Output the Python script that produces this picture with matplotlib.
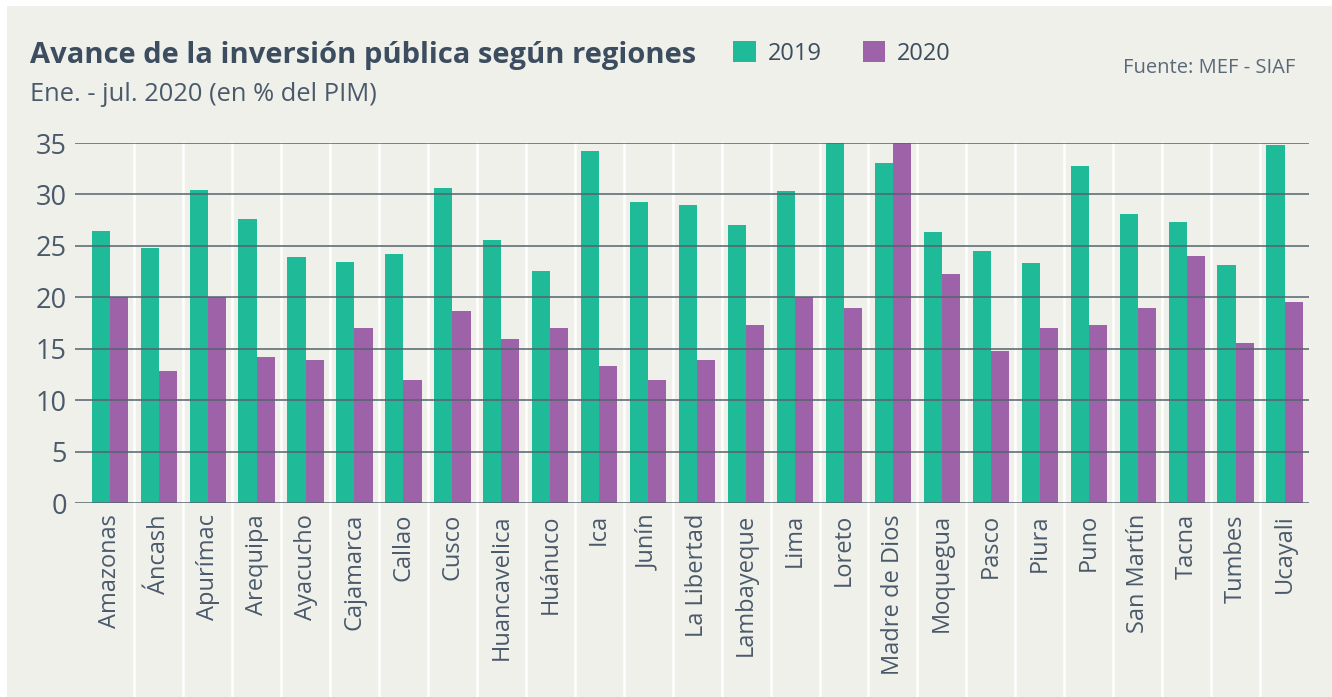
import numpy as np
import matplotlib.pyplot as plt
from matplotlib.patches import Rectangle

regiones = ['Amazonas', 'Áncash', 'Apurímac', 'Arequipa', 'Ayacucho', 'Cajamarca',
            'Callao', 'Cusco', 'Huancavelica', 'Huánuco', 'Ica', 'Junín',
            'La Libertad', 'Lambayeque', 'Lima', 'Loreto', 'Madre de Dios',
            'Moquegua', 'Pasco', 'Piura', 'Puno', 'San Martín', 'Tacna',
            'Tumbes', 'Ucayali']
v2019 = [26.4, 24.8, 30.4, 27.6, 23.9, 23.4, 24.2, 30.6, 25.6, 22.6, 34.2, 29.3,
         29.0, 27.0, 30.3, 35.0, 33.1, 26.3, 24.5, 23.3, 32.8, 28.1, 27.3, 23.1, 34.8]
v2020 = [20.0, 12.85, 20.0, 14.2, 13.9, 17.0, 12.0, 18.7, 15.9, 17.0, 13.3, 12.0,
         13.9, 17.3, 20.0, 19.0, 35.0, 22.3, 14.8, 17.0, 17.3, 19.0, 24.0, 15.6, 19.5]
yticks = [0, 5, 10, 15, 20, 25, 30, 35]

verde = '#1fba98'
morado = '#9e62a8'
fondo = '#f0f0eb'
texto = '#3b4d5e'

plt.rcParams['font.family'] = ['Open Sans', 'DejaVu Sans']

fig = plt.figure(figsize=(13.32, 6.97), dpi=100)
fig.patch.set_facecolor('white')
fig.patches.append(Rectangle((7 / 1332, 0), 1, (697 - 6) / 697, transform=fig.transFigure,
                             facecolor=fondo, edgecolor='none', zorder=-5))

ax = fig.add_axes([75 / 1332, (697 - 503) / 697, (1309 - 75) / 1332, 360 / 697])
ax.set_facecolor('none')
ax.set_zorder(2)

x = np.arange(len(regiones))
w = 0.37
ax.bar(x - w / 2, v2019, w, color=verde, zorder=2, label='2019')
ax.bar(x + w / 2, v2020, w, color=morado, zorder=2, label='2020')

for yt in yticks:
    ax.axhline(yt, color='#56636f', lw=1.1, zorder=3)

# separadores blancos entre regiones
trans = ax.get_xaxis_transform()
for k in range(len(regiones) - 1):
    ax.plot([k + 0.5, k + 0.5], [1.0, -0.535], transform=trans, color='white',
            lw=1.8, zorder=1, clip_on=False)

ax.set_xlim(-0.71, 24.5)
ax.set_ylim(0, 35)
ax.set_yticks(yticks)
ax.set_xticks(x)
ax.set_xticklabels(regiones, rotation=90, fontsize=17, color='#4a5a6b')
ax.tick_params(axis='x', length=0, pad=8)
ax.tick_params(axis='y', length=0, pad=6, labelsize=19.5, labelcolor='#4a5a6b')
for s in ax.spines.values():
    s.set_visible(False)

fig.text(30 / 1332, 1 - 63 / 697, 'Avance de la inversión pública según regiones',
         fontsize=21, fontweight='bold', color=texto)
fig.text(30 / 1332, 1 - 101 / 697, 'Ene. - jul. 2020 (en % del PIM)',
         fontsize=18.4, color='#4a5a6b')
fig.text(1295 / 1332, 1 - 73 / 697, 'Fuente: MEF - SIAF', fontsize=14.5, color='#5a6978',
         ha='right')

leg = fig.legend(loc='upper left', bbox_to_anchor=(712 / 1332, 1 - 20 / 697), ncol=2,
                 frameon=False, fontsize=17, handlelength=0.95, handleheight=1.0,
                 handletextpad=0.5, columnspacing=1.75, labelcolor=texto)

fig.savefig('out.png', dpi=100, facecolor='white')
